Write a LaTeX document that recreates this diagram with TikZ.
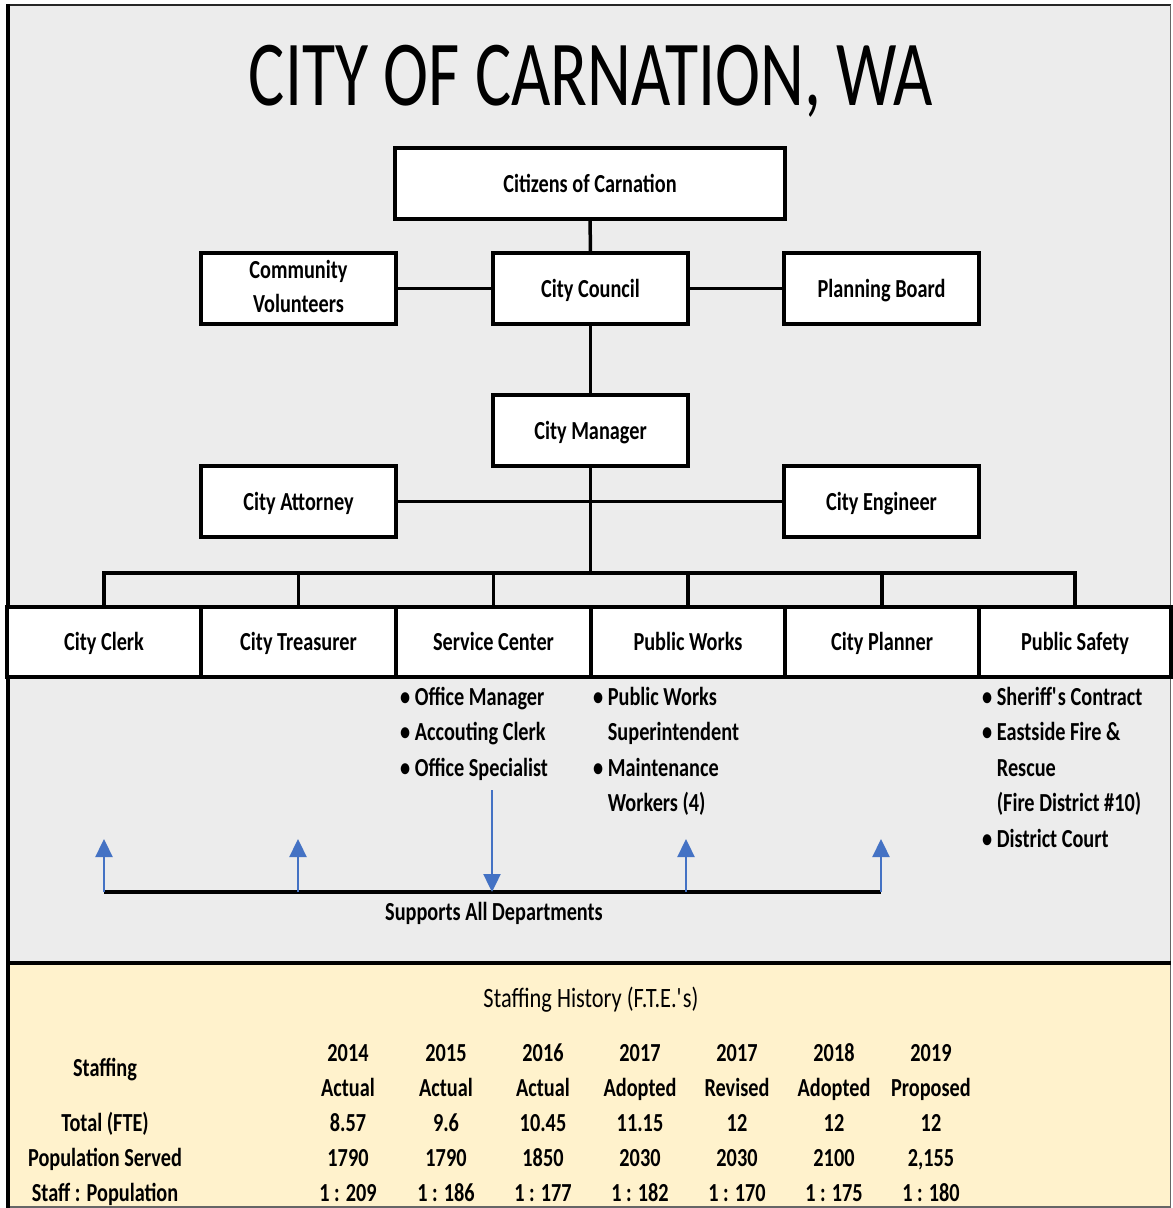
\documentclass[tikz,border=0pt]{standalone}
\usepackage{fontspec}
\setmainfont{Carlito}[FakeStretch=0.78]
\newfontfamily\titlefont{Carlito}[FakeStretch=0.73]
\newfontfamily\headfont{Carlito}[FakeStretch=0.8]
\usetikzlibrary{arrows.meta}
\definecolor{panel}{HTML}{ECECEC}
\definecolor{cream}{HTML}{FFF2CC}
\definecolor{arrowblue}{HTML}{4472C4}
\begin{document}
\begin{tikzpicture}[x=1pt,y=-1pt,
  txt/.style={font=\bfseries\fontsize{26}{34}\selectfont},
  box/.style={txt, draw=black, line width=3.5pt, fill=white, minimum width=195pt,
    minimum height=71pt, inner sep=0pt, text height=17pt, text depth=0pt},
  dept/.style={txt, draw=black, line width=3.5pt, fill=white, minimum height=70pt,
    inner sep=0pt, text height=17pt, text depth=0pt},
  link/.style={line width=3.5pt, black},
  bluearrow/.style={draw=arrowblue, line width=2.4pt, -{Triangle[length=18pt,width=17pt]}},
  item/.style={font=\bfseries\fontsize{26}{34}\selectfont, inner sep=0pt, anchor=base west},
  cell/.style={font=\bfseries\fontsize{26}{34}\selectfont, inner sep=0pt, anchor=base}
]
\useasboundingbox (0,0) rectangle (1173,1208);
\fill[white] (0,0) rectangle (1173,1208);
\fill[panel] (8,5) rectangle (1170.5,963);
\fill[cream] (8,963) rectangle (1170.5,1208);
% frame
\draw[line width=2pt, black!85] (7,5) -- (1170.5,5);
\draw[line width=1.5pt, black!60] (1170.5,5) -- (1170.5,1207) -- (8,1207);
\draw[line width=3.5pt, black] (8,4) -- (8,1208);
\draw[line width=3.5pt, black] (7,963) -- (1171,963);

% title
\node[font=\titlefont\fontsize{93}{93}\selectfont, inner sep=0pt, anchor=base] (title) at (591,105) {CITY OF CARNATION, WA};

% top boxes
\node[box, text height=, text depth=] (cv) at (298.5,288.5) {\renewcommand\arraystretch{1}\begin{tabular}{@{}c@{}}Community\\Volunteers\end{tabular}};
\node[box, minimum width=390pt] (cit) at (590,183.5) {Citizens of Carnation};
\node[box] (cc) at (590.5,288.5) {City Council};
\node[box] (pb) at (881.5,288.5) {Planning Board};
\node[box] (mgr) at (590.5,430.5) {City Manager};
\node[box] (att) at (298.5,501.5) {City Attorney};
\node[box] (eng) at (881.5,501.5) {City Engineer};

% department row
\node[dept, minimum width=194pt] (clerk) at (104,642) {City Clerk};
\node[dept, minimum width=195pt] (treas) at (298.5,642) {City Treasurer};
\node[dept, minimum width=195pt] (svc) at (493.5,642) {Service Center};
\node[dept, minimum width=194pt] (pw) at (688,642) {Public Works};
\node[dept, minimum width=194pt] (plan) at (882,642) {City Planner};
\node[dept, minimum width=192pt] (safety) at (1075,642) {Public Safety};

% connectors
\coordinate (bus) at (590.5,573);
\draw[link] (cit) -- (cc);
\draw[link] (cv) -- (cc);
\draw[link] (cc) -- (pb);
\draw[link] (cc) -- (mgr);
\draw[link] (mgr) -- (bus);
\draw[link] (att) -- (eng);
\draw[link, line join=miter] (clerk.north) -- (clerk.north |- bus) -- (safety.north |- bus) -- (safety.north);
\foreach \n in {treas,svc,pw,plan} \draw[link] (\n.north) -- (\n.north |- bus);

% lists
\node[item] (s1) at (400,705) {•\ Office Manager};
\node[item] (s2) at (400,740.5) {•\ Accouting Clerk};
\node[item] (s3) at (400,776) {•\ Office Specialist};
\node[item] (p1) at (593,705) {•\ Public Works};
\node[item] (p2) at (593,740.5) {\hphantom{•\ }Superintendent};
\node[item] (p3) at (593,776) {•\ Maintenance};
\node[item] (p4) at (593,811.5) {\hphantom{•\ }Workers (4)};
\node[item] (f1) at (982,705) {•\ Sheriff\textquotesingle s Contract};
\node[item] (f2) at (982,740.5) {•\ Eastside Fire \&};
\node[item] (f3) at (982,776) {\hphantom{•\ }Rescue};
\node[item] (f4) at (982,811.5) {\hphantom{•\ }(Fire District \#10)};
\node[item] (f5) at (982,847) {•\ District Court};

% support arrows
\coordinate (sl) at (104,892);
\coordinate (sr) at (881,892);
\coordinate (dtop) at (492,790);
\coordinate (dbot) at (492,892);
\coordinate (u1) at (104,839);
\coordinate (u2) at (298,839);
\coordinate (u3) at (686,839);
\coordinate (u4) at (881,839);
\draw[link] (sl) -- (sr);
\draw[bluearrow] (dtop) -- (dbot);
\foreach \u in {u1,u2,u3,u4} \draw[bluearrow] (\u |- sl) -- (\u);
\node[cell] (suplabel) at (494,920) {Supports All Departments};

% staffing table
\node[font=\headfont\fontsize{28}{34}\selectfont, inner sep=0pt, anchor=base] (thead) at (591,1007) {Staffing History (F.T.E.\textquotesingle s)};
\node[cell] (lstaff) at (105,1076.5) {Staffing};
\node[cell] (ltotal) at (105,1131.5) {Total (FTE)};
\node[cell] (lpop) at (105,1166.5) {Population Served};
\node[cell] (lratio) at (105,1201.5) {Staff : Population};
\foreach \x/\yr/\ty/\tot/\pop/\rat [count=\i] in {
  348/2014/Actual/8.57/1790/{1 : 209},
  446/2015/Actual/9.6/1790/{1 : 186},
  543/2016/Actual/10.45/1850/{1 : 177},
  640/2017/Adopted/11.15/2030/{1 : 182},
  737/2017/Revised/12/2030/{1 : 170},
  834/2018/Adopted/12/2100/{1 : 175},
  931/2019/Proposed/12/{2,155}/{1 : 180}} {
  \node[cell] (yr\i) at (\x,1061.5) {\yr};
  \node[cell] (ty\i) at (\x,1096.5) {\ty};
  \node[cell] (tot\i) at (\x,1131.5) {\tot};
  \node[cell] (pop\i) at (\x,1166.5) {\pop};
  \node[cell] (rat\i) at (\x,1201.5) {\rat};
}
\end{tikzpicture}
\end{document}
